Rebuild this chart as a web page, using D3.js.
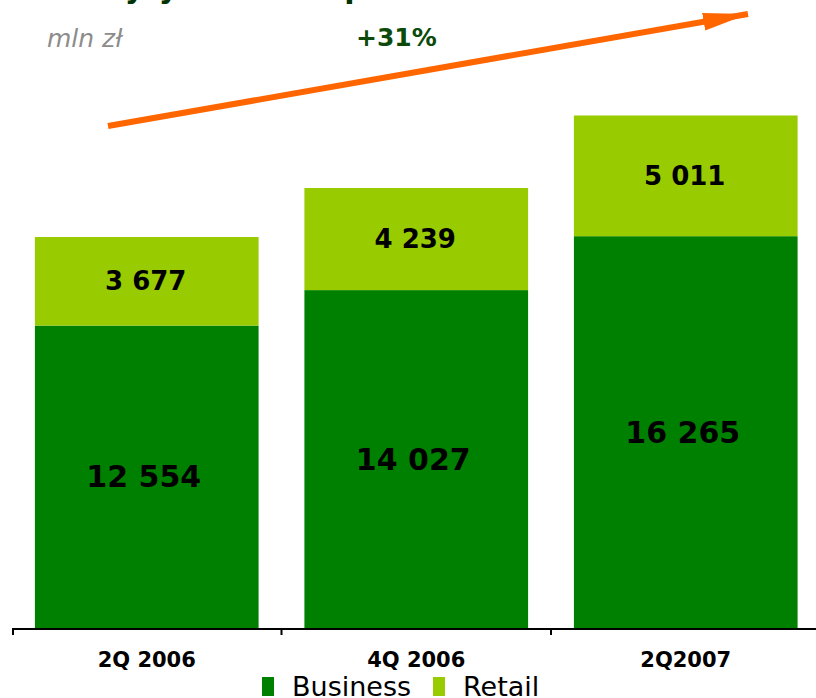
<!DOCTYPE html>
<meta charset="utf-8">
<style>
body { margin: 0; background: #fff; }
text { font-family: "DejaVu Sans", Verdana, sans-serif; }
.bar-label { font-weight: bold; fill: #000; }
.axis-label { font-weight: bold; font-size: 21px; }
</style>
<body>
<script src="https://d3js.org/d3.v7.min.js"></script>
<script>

// data
var categories = ["2Q 2006", "4Q 2006", "2Q2007"];
var business = [12554, 14027, 16265];
var retail = [3677, 4239, 5011];
var seriesNames = ["Business", "Retail"];
var colors = ["#008000", "#99cc00"];

var width = 816, height = 698;
var baseY = 628;

var svg = d3.select("body").append("svg")
    .attr("width", width)
    .attr("height", height);

var x = d3.scaleBand()
    .domain(categories)
    .range([12, 820.5])
    .paddingInner(0.17)
    .paddingOuter(0.085);

var y = d3.scaleLinear()
    .domain([0, 26070])
    .range([baseY, 0]);

var fmt = function(v) { return d3.format(",")(v).replace(/,/g, " "); };

// title, mostly cut off at the top
svg.append("text")
    .attr("x", 45).attr("y", -2)
    .style("font-size", "30px").style("font-weight", "bold")
    .attr("fill", "#003300")
    .text("Kredyty brutto w podziale");

svg.append("text")
    .attr("x", 47).attr("y", 47)
    .style("font-size", "25px").style("font-style", "italic")
    .attr("fill", "#8c8c8c")
    .text("mln zł");

svg.append("text")
    .attr("x", 356).attr("y", 46)
    .style("font-size", "25px").style("font-weight", "bold")
    .attr("fill", "#0b4a0b")
    .text("+31%");

// growth arrow
svg.append("defs").append("marker")
    .attr("id", "head")
    .attr("viewBox", "0 0 45 18")
    .attr("refX", 45).attr("refY", 9)
    .attr("markerWidth", 45).attr("markerHeight", 18)
    .attr("markerUnits", "userSpaceOnUse")
    .attr("orient", "auto")
  .append("path")
    .attr("d", "M0,0 L45,9 L0,18 Z")
    .attr("fill", "#ff6600");

svg.append("line")
    .attr("x1", 108).attr("y1", 126)
    .attr("x2", 748).attr("y2", 14)
    .attr("stroke", "#ff6600")
    .attr("stroke-width", 6)
    .attr("marker-end", "url(#head)");

// bars
var rows = categories.map(function(c, i) {
  return {cat: c, business: business[i], retail: retail[i]};
});

svg.selectAll(".bus")
    .data(rows)
  .enter().append("rect")
    .attr("x", function(d) { return x(d.cat); })
    .attr("width", x.bandwidth())
    .attr("y", function(d) { return y(d.business); })
    .attr("height", function(d) { return baseY - y(d.business); })
    .attr("fill", colors[0]);

svg.selectAll(".ret")
    .data(rows)
  .enter().append("rect")
    .attr("x", function(d) { return x(d.cat); })
    .attr("width", x.bandwidth())
    .attr("y", function(d) { return y(d.business + d.retail); })
    .attr("height", function(d) { return y(d.business) - y(d.business + d.retail); })
    .attr("fill", colors[1]);

svg.selectAll(".bus-label")
    .data(rows)
  .enter().append("text")
    .attr("class", "bar-label")
    .attr("text-anchor", "middle")
    .attr("dominant-baseline", "central")
    .style("font-size", "30px")
    .attr("x", function(d) { return x(d.cat) + x.bandwidth() / 2 - 3; })
    .attr("y", function(d) { return (y(0) + y(d.business)) / 2; })
    .text(function(d) { return fmt(d.business); });

svg.selectAll(".ret-label")
    .data(rows)
  .enter().append("text")
    .attr("class", "bar-label")
    .attr("text-anchor", "middle")
    .attr("dominant-baseline", "central")
    .style("font-size", "26px")
    .attr("x", function(d) { return x(d.cat) + x.bandwidth() / 2 - 1; })
    .attr("y", function(d) { return (y(d.business) + y(d.business + d.retail)) / 2; })
    .text(function(d) { return fmt(d.retail); });

// x axis with ticks between categories
var axis = svg.append("g");
axis.append("line")
    .attr("x1", 12).attr("x2", width)
    .attr("y1", baseY + 1).attr("y2", baseY + 1)
    .attr("stroke", "#000").attr("stroke-width", 2);

var tickX = categories.map(function(c) { return x(c) - x.step() * x.paddingInner() / 2; });
tickX[0] = 13;
axis.selectAll(".tick")
    .data(tickX)
  .enter().append("line")
    .attr("x1", function(d) { return d; }).attr("x2", function(d) { return d; })
    .attr("y1", baseY).attr("y2", baseY + 7)
    .attr("stroke", "#000").attr("stroke-width", 2);

axis.selectAll(".axis-label")
    .data(categories)
  .enter().append("text")
    .attr("class", "axis-label")
    .attr("text-anchor", "middle")
    .attr("x", function(d) { return x(d) + x.bandwidth() / 2; })
    .attr("y", 667)
    .text(function(d) { return d; });

// legend
var legend = svg.append("g");
var legX = [262, 433];
seriesNames.forEach(function(name, i) {
  legend.append("rect")
      .attr("x", legX[i]).attr("y", 677)
      .attr("width", 12).attr("height", 19)
      .attr("fill", colors[i]);
  legend.append("text")
      .attr("x", legX[i] + 30).attr("y", 696)
      .style("font-size", "27px")
      .attr("fill", "#000")
      .text(name);
});

</script>
</body>
